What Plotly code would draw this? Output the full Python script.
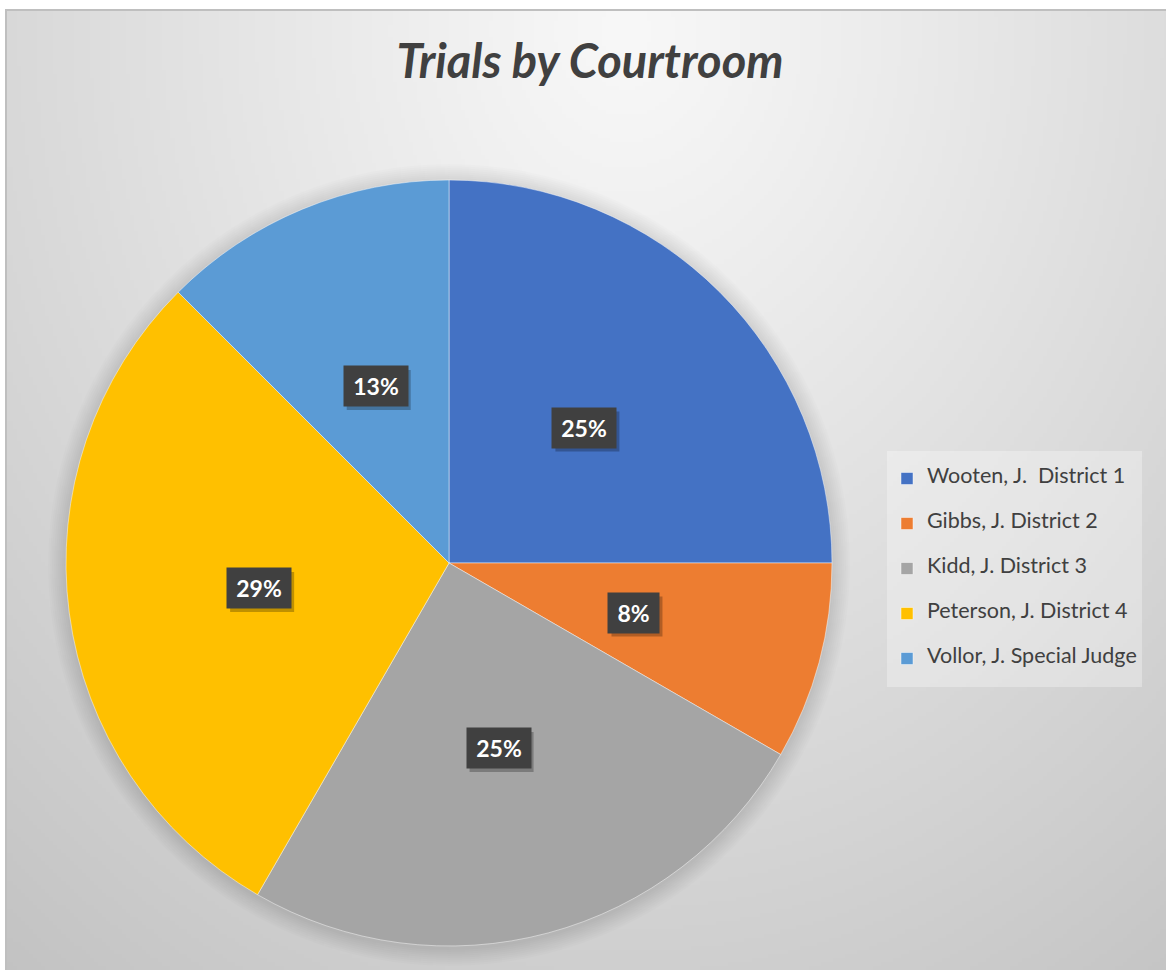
import base64
import math
import struct
import zlib

import numpy as np
import plotly.graph_objects as go

# ---------------- data ----------------
categories = ["Wooten, J.  District 1", "Gibbs, J. District 2", "Kidd, J. District 3",
              "Peterson, J. District 4", "Vollor, J. Special Judge"]
trials = [6, 2, 6, 7, 3]
colors = ["#4472C4", "#ED7D31", "#A5A5A5", "#FFC000", "#5B9BD5"]
title_text = "Trials by Courtroom"

# ---------------- layout constants ----------------
W, H = 1166, 970
CX, CY, R = 449, 563, 383
FONT = "Lato"
TXT = "#404040"


def px(x):
    return x / W


def py(y):
    return 1 - y / H


# ---------------- background gradient (decorative PNG) ----------------
def png_gray(arr):
    h, w = arr.shape
    raw = b"".join(b"\x00" + arr[r].tobytes() for r in range(h))

    def chunk(t, d):
        c = struct.pack(">I", len(d)) + t + d
        return c + struct.pack(">I", zlib.crc32(t + d) & 0xFFFFFFFF)

    return (b"\x89PNG\r\n\x1a\n"
            + chunk(b"IHDR", struct.pack(">IIBBBBB", w, h, 8, 0, 0, 0, 0))
            + chunk(b"IDAT", zlib.compress(raw, 9))
            + chunk(b"IEND", b""))


gw, gh = 290, 240
ii, jj = np.meshgrid(np.arange(gw), np.arange(gh))
Xp = 7 + (ii + 0.5) * (W - 7) / gw
Yp = 11 + (jj + 0.5) * (H - 11) / gh
t = np.sqrt(((Xp - 620) / 1000) ** 2 + ((Yp - 30) / 1200) ** 2)
grad = (248 - 54 * np.clip(t, 0, 1) ** 1.1).astype(np.uint8)
bg_uri = "data:image/png;base64," + base64.b64encode(png_gray(grad)).decode()

# ---------------- figure ----------------
fig = go.Figure()

# soft shadow under the pie (stacked translucent discs)
for k in range(1, 10):
    d = 2 * k
    off = 2
    fig.add_trace(go.Pie(
        labels=["shadow"], values=[1], sort=False,
        marker=dict(colors=["rgba(0,0,0,0.013)"], line=dict(width=0)),
        textinfo="none", hoverinfo="skip", showlegend=False,
        domain=dict(x=[px(CX - R - d), px(CX + R + d)],
                    y=[py(CY + off + R + d), py(CY + off - R - d)]),
    ))

legend_labels = [
    '\u00a0<br><span style="font-size:21.5px">' + c.replace("  ", "\u00a0 ") + "</span><br>\u00a0"
    for c in categories
]

fig.add_trace(go.Pie(
    labels=legend_labels, values=trials, sort=False,
    direction="clockwise", rotation=0,
    marker=dict(colors=colors, line=dict(color="rgba(255,255,255,0.45)", width=1)),
    textinfo="none",
    customdata=categories,
    hovertemplate="%{customdata}: %{value} (%{percent})<extra></extra>",
    domain=dict(x=[px(CX - R), px(CX + R)], y=[py(CY + R), py(CY - R)]),
    showlegend=True,
))

# data labels: dark boxes at half radius, positions derived from the values
total = sum(trials)
cum = 0
shapes = [dict(type="rect", xref="paper", yref="paper",
               x0=px(6), y0=-0.05, x1=1.05, y1=py(10),
               line=dict(color="#bfbfbf", width=2), layer="below")]
annotations = []
PAD = 5
BOX_H = 30
for v in trials:
    pct = math.floor(v / total * 100 + 0.5)
    theta = math.radians((cum + v / 2) / total * 360)
    cum += v
    X = CX + 0.5 * R * math.sin(theta)
    Y = CY - 0.5 * R * math.cos(theta)
    label = f"{pct}%"
    bw = 41 if len(label) <= 2 else 54
    # drop shadow behind the label box
    sx, sy = X + 3, Y + 4
    hw, hh = bw / 2 + PAD, BOX_H / 2 + PAD
    shapes.append(dict(type="rect", xref="paper", yref="paper",
                       x0=px(sx - hw), x1=px(sx + hw), y0=py(sy + hh), y1=py(sy - hh),
                       fillcolor="rgba(0,0,0,0.25)", line=dict(width=0), layer="above"))
    annotations.append(dict(text=label, xref="paper", yref="paper", x=px(X), y=py(Y),
                            xanchor="center", yanchor="middle", showarrow=False,
                            width=bw, height=BOX_H, borderpad=PAD, bgcolor="#404040",
                            font=dict(family=FONT, size=23, color="white", weight="bold")))

fig.update_layout(
    width=W, height=H,
    margin=dict(l=0, r=0, t=0, b=0),
    paper_bgcolor="white",
    plot_bgcolor="rgba(0,0,0,0)",
    title=dict(text=title_text, x=px(590), y=py(62), xref="paper", yref="paper",
               xanchor="center", yanchor="middle",
               font=dict(family=FONT, size=47, color=TXT, weight="bold", style="italic")),
    legend=dict(x=px(887), y=py(451), xanchor="left", yanchor="top",
                bgcolor="rgba(255,255,255,0.3)", borderwidth=0,
                font=dict(family=FONT, size=10.77, color=TXT),
                traceorder="normal"),
    images=[dict(source=bg_uri, xref="paper", yref="paper",
                 x=px(7), y=py(11), sizex=1.01 - px(7), sizey=py(11) + 0.01,
                 xanchor="left", yanchor="top", sizing="stretch", layer="below")],
    shapes=shapes,
    annotations=annotations,
)

fig.write_html("out.html", config={"displayModeBar": False},
               post_script="document.body.style.margin='0';document.body.style.overflow='hidden';")
